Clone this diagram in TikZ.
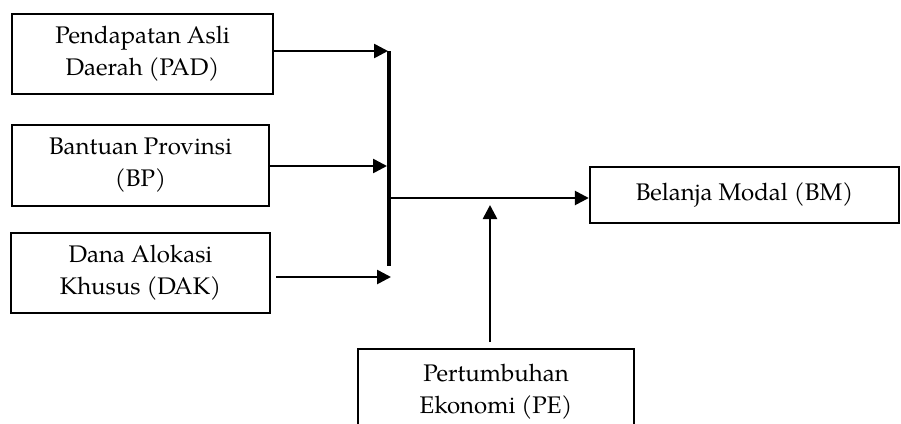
\documentclass[tikz,border=0pt]{standalone}
\usepackage{fontspec}
\setmainfont{TeX Gyre Pagella}
\usetikzlibrary{arrows.meta}
\begin{document}
\begin{tikzpicture}[x=1pt,y=-1pt,
  box/.style={draw,line width=2.4pt,rectangle,inner sep=0pt,align=center,
    font=\fontsize{24}{32}\selectfont},
  arr/.style={line width=2.6pt,-{Triangle[length=14pt,width=14pt]}},
  bar/.style={line width=4.5pt}]
\useasboundingbox (0,0) rectangle (901,423);
\clip (0,0) rectangle (901,423);
\node[box,minimum width=261pt,minimum height=80pt] (pad) at (142.5,54) {Pendapatan Asli\\Daerah (PAD)};
\node[box,minimum width=257pt,minimum height=81pt] (bp) at (140.5,165.5) {Bantuan Provinsi\\(BP)};
\node[box,minimum width=259pt,minimum height=80pt] (dak) at (140.5,273) {Dana Alokasi\\Khusus (DAK)};
\node[box,minimum width=309pt,minimum height=56pt] (bm) at (744.5,195) {Belanja Modal (BM)};
\node[box,minimum width=276pt,minimum height=86pt] (pe) at (496,392) {Pertumbuhan\\Ekonomi (PE)};
\coordinate (barTop) at (389,51);
\coordinate (barBot) at (389,266);
\coordinate (tipPAD) at (388,51);
\coordinate (tipBP) at (387,166);
\coordinate (tipDAK) at (391,277);
\coordinate (join) at (389,198);
\coordinate (tipPE) at (490,205);
\coordinate (startPE) at (490,342);
\draw[arr] (pad.east |- tipPAD) -- (tipPAD);
\draw[arr] (bp.east |- tipBP) -- (tipBP);
\draw[arr] ([xshift=5pt]dak.east |- tipDAK) -- (tipDAK);
\draw[bar] (barTop) -- (barBot);
\draw[arr] (join) -- (bm.west |- join);
\draw[arr] (startPE) -- (tipPE);
\end{tikzpicture}
\end{document}
